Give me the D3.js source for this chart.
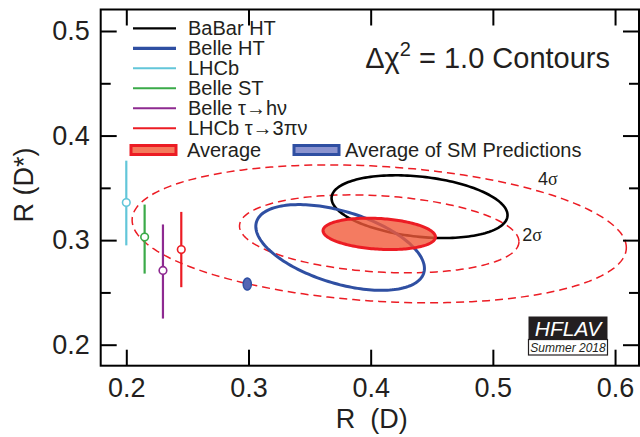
<!DOCTYPE html>
<html>
<head>
<meta charset="utf-8">
<script src="https://cdn.jsdelivr.net/npm/d3@7"></script>
<style>
  body { margin: 0; background: #fff; }
  text { font-family: "Liberation Sans", Arial, Helvetica, sans-serif; fill: #231f20; }
</style>
</head>
<body>
<svg id="chart" width="640" height="437"></svg>
<script>
// 2D measurements of R(D) and R(D*), drawn as Δχ² = 1 contours
const contourNames = ['BaBar HT', 'Belle HT'];
const contourRD = [0.440, 0.375];
const contourRDerr = [0.072, 0.069];
const contourRDs = [0.332, 0.293];
const contourRDsErr = [0.030, 0.041];
const contourRho = [-0.27, -0.49];
const contourColors = ['#000000', '#2f4fa2'];

// R(D*) only measurements, plotted at arbitrary R(D)
const pointNames = ['LHCb', 'Belle ST', 'Belle τ→hν', 'LHCb τ→3πν'];
const pointRD = [0.200, 0.215, 0.230, 0.245];
const pointRDs = [0.336, 0.303, 0.271, 0.291];
const pointErrUp = [0.040, 0.031, 0.044, 0.036];
const pointErrDown = [0.041, 0.035, 0.046, 0.036];
const pointColors = ['#62c6d9', '#3aaa48', '#8e2a91', '#ec1c24'];

// world average
const avgRD = 0.407, avgRDerr = 0.046;
const avgRDs = 0.306, avgRDsErr = 0.015;
const avgRho = -0.20;

// average of SM predictions
const smRD = 0.299, smRDerr = 0.0033;
const smRDs = 0.258, smRDsErr = 0.0057;
const smRho = 0.0;

// significance contours around the average (Δχ² for 2 dof)
const sigmaLabels = ['2σ', '4σ'];
const sigmaChi2 = [6.18, 19.33];
const sigmaLabelRD = [0.524, 0.537];
const sigmaLabelRDs = [0.2995, 0.3525];

const xTicks = [0.2, 0.3, 0.4, 0.5, 0.6];
const yTicks = [0.2, 0.3, 0.4, 0.5];
const yMinorTicks = [0.25, 0.35, 0.45];

const width = 640, height = 437;
const margin = { top: 9.5, right: 1, bottom: 71.3, left: 100.7 };

const svg = d3.select('#chart');

const x = d3.scaleLinear()
  .domain([0.17905, 0.6196])
  .range([margin.left, width - margin.right]);
const y = d3.scaleLinear()
  .domain([0.17992, 0.52056])
  .range([height - margin.bottom, margin.top]);

const red = '#ec1c24';

function ellipse(mx, sx, my, sy, rho, k) {
  const c = Math.sqrt(1 - rho * rho);
  return d3.range(0, 360, 2).map(a => {
    const t = a * Math.PI / 180;
    return [x(mx + k * sx * Math.cos(t)), y(my + k * sy * (rho * Math.cos(t) + c * Math.sin(t)))];
  });
}
const line = d3.line().curve(d3.curveLinearClosed);

const plot = svg.append('g');

// dashed significance contours
plot.selectAll('path.sig')
  .data(sigmaChi2)
  .join('path')
  .attr('class', 'sig')
  .attr('d', d => line(ellipse(avgRD, avgRDerr, avgRDs, avgRDsErr, avgRho, Math.sqrt(d))))
  .attr('fill', 'none')
  .attr('stroke', red)
  .attr('stroke-width', 1.5)
  .attr('stroke-dasharray', '8,5');

plot.selectAll('text.sig')
  .data(sigmaLabels)
  .join('text')
  .attr('class', 'sig')
  .attr('x', (d, i) => x(sigmaLabelRD[i]))
  .attr('y', (d, i) => y(sigmaLabelRDs[i]))
  .attr('font-size', 18)
  .text(d => d[0])
  .append('tspan')
  .style('font-family', '"Liberation Serif", "Times New Roman", serif')
  .text(d => d.slice(1));

// experiment contours
plot.selectAll('path.exp')
  .data(contourNames)
  .join('path')
  .attr('class', 'exp')
  .attr('d', (d, i) => line(ellipse(contourRD[i], contourRDerr[i], contourRDs[i], contourRDsErr[i], contourRho[i], 1)))
  .attr('fill', 'none')
  .attr('stroke', (d, i) => contourColors[i])
  .attr('stroke-width', (d, i) => i === 0 ? 2.6 : 3);

// average
plot.append('path')
  .attr('d', line(ellipse(avgRD, avgRDerr, avgRDs, avgRDsErr, avgRho, 1)))
  .attr('fill', '#f15a3a')
  .attr('fill-opacity', 0.8)
  .attr('stroke', red)
  .attr('stroke-width', 3);

// SM
plot.append('path')
  .attr('d', line(ellipse(smRD, smRDerr, smRDs, smRDsErr, smRho, 1)))
  .attr('fill', '#5566b4')
  .attr('stroke', '#2f4fa2')
  .attr('stroke-width', 1.5);

// R(D*) only points
const pts = plot.selectAll('g.pt')
  .data(pointNames)
  .join('g')
  .attr('class', 'pt');
pts.append('line')
  .attr('x1', (d, i) => x(pointRD[i]))
  .attr('x2', (d, i) => x(pointRD[i]))
  .attr('y1', (d, i) => y(pointRDs[i] + pointErrUp[i]))
  .attr('y2', (d, i) => y(pointRDs[i] - pointErrDown[i]))
  .attr('stroke', (d, i) => pointColors[i])
  .attr('stroke-width', 2.2);
pts.append('circle')
  .attr('cx', (d, i) => x(pointRD[i]))
  .attr('cy', (d, i) => y(pointRDs[i]))
  .attr('r', 3.8)
  .attr('fill', '#fff')
  .attr('stroke', (d, i) => pointColors[i])
  .attr('stroke-width', 1.6);

// axes with inward ticks
const axes = svg.append('g').attr('stroke-width', 2);
const yb = height - margin.bottom;
const xr = width - margin.right;

axes.append('g')
  .attr('transform', `translate(0,${yb})`)
  .call(d3.axisBottom(x).tickValues(xTicks).tickSizeInner(-16).tickSizeOuter(0).tickPadding(12).tickFormat(d3.format('.1f')));
axes.append('g')
  .attr('transform', `translate(0,${margin.top})`)
  .call(d3.axisTop(x).tickValues(xTicks).tickSizeInner(-16).tickSizeOuter(0).tickFormat(''));
axes.append('g')
  .attr('transform', `translate(${margin.left},0)`)
  .call(d3.axisLeft(y).tickValues(yTicks).tickSizeInner(-16).tickSizeOuter(0).tickPadding(11).tickFormat(d3.format('.1f')));
axes.append('g')
  .attr('transform', `translate(${margin.left},0)`)
  .call(d3.axisLeft(y).tickValues(yMinorTicks).tickSizeInner(-10).tickSizeOuter(0).tickFormat(''));
axes.append('g')
  .attr('transform', `translate(${xr},0)`)
  .call(d3.axisRight(y).tickValues(yTicks).tickSizeInner(-16).tickSizeOuter(0).tickFormat(''));
axes.append('g')
  .attr('transform', `translate(${xr},0)`)
  .call(d3.axisRight(y).tickValues(yMinorTicks).tickSizeInner(-10).tickSizeOuter(0).tickFormat(''));

axes.selectAll('.domain').remove();
axes.selectAll('.tick line').attr('stroke', '#000').attr('stroke-width', 2);
axes.selectAll('.tick text').attr('font-size', 27).attr('fill', '#231f20')
  .style('font-family', '"Liberation Sans", Arial, sans-serif');

axes.append('rect')
  .attr('x', margin.left)
  .attr('y', margin.top)
  .attr('width', xr - margin.left)
  .attr('height', yb - margin.top)
  .attr('fill', 'none')
  .attr('stroke', '#000')
  .attr('stroke-width', 2);

// axis titles
svg.append('text')
  .attr('x', (margin.left + xr) / 2 + 2)
  .attr('y', 428)
  .attr('text-anchor', 'middle')
  .attr('font-size', 27)
  .attr('xml:space', 'preserve')
  .text('R  (D)');
svg.append('text')
  .attr('transform', 'translate(33,185) rotate(-90)')
  .attr('text-anchor', 'middle')
  .attr('font-size', 27)
  .text('R (D*)');

// header
const head = svg.append('text')
  .attr('x', 610)
  .attr('y', 68)
  .attr('text-anchor', 'end')
  .attr('font-size', 29);
head.append('tspan').text('Δχ');
head.append('tspan').attr('font-size', 20).attr('dy', -12).text('2');
head.append('tspan').attr('dy', 12).text(' = 1.0 Contours');

// legend
const lineLabels = contourNames.concat(pointNames);
const lineColors = contourColors.concat(pointColors);
const lineWidths = [2.2, 3.2, 2, 2, 2, 2];
const leg = svg.append('g');
const rows = leg.selectAll('g')
  .data(lineLabels)
  .join('g')
  .attr('transform', (d, i) => `translate(133,${28.3 + i * 20})`);
rows.append('line')
  .attr('x2', 43)
  .attr('stroke', (d, i) => lineColors[i])
  .attr('stroke-width', (d, i) => lineWidths[i]);
rows.append('text')
  .attr('x', 55)
  .attr('y', 7)
  .attr('font-size', 20)
  .text(d => d);

const boxLabels = ['Average', 'Average of SM Predictions'];
const boxStroke = [red, '#2f4fa2'];
const boxFill = ['#f47a5c', '#8b93cf'];
const boxX = [131, 294];
const boxes = leg.selectAll('g.box')
  .data(boxLabels)
  .join('g')
  .attr('class', 'box')
  .attr('transform', (d, i) => `translate(${boxX[i]},150)`);
boxes.append('rect')
  .attr('x', 0).attr('y', -4.5)
  .attr('width', 45).attr('height', 9)
  .attr('fill', (d, i) => boxFill[i])
  .attr('stroke', (d, i) => boxStroke[i])
  .attr('stroke-width', 3);
boxes.append('text')
  .attr('x', (d, i) => i === 0 ? 56 : 51)
  .attr('y', 7)
  .attr('font-size', 20)
  .text(d => d);

// HFLAV tag
const tag = svg.append('g').attr('transform', 'translate(528.5,316.5)');
tag.append('rect').attr('width', 79).attr('height', 23).attr('fill', '#231f20');
tag.append('rect').attr('y', 23).attr('width', 79).attr('height', 15.5)
  .attr('fill', '#fff').attr('stroke', '#231f20').attr('stroke-width', 1.2);
tag.append('text').attr('x', 39.5).attr('y', 19.5).attr('text-anchor', 'middle')
  .attr('font-size', 21).attr('font-style', 'italic').style('fill', '#fff').text('HFLAV');
tag.append('text').attr('x', 39.5).attr('y', 35).attr('text-anchor', 'middle')
  .attr('font-size', 12).attr('font-style', 'italic').text('Summer 2018');
</script>
</body>
</html>
